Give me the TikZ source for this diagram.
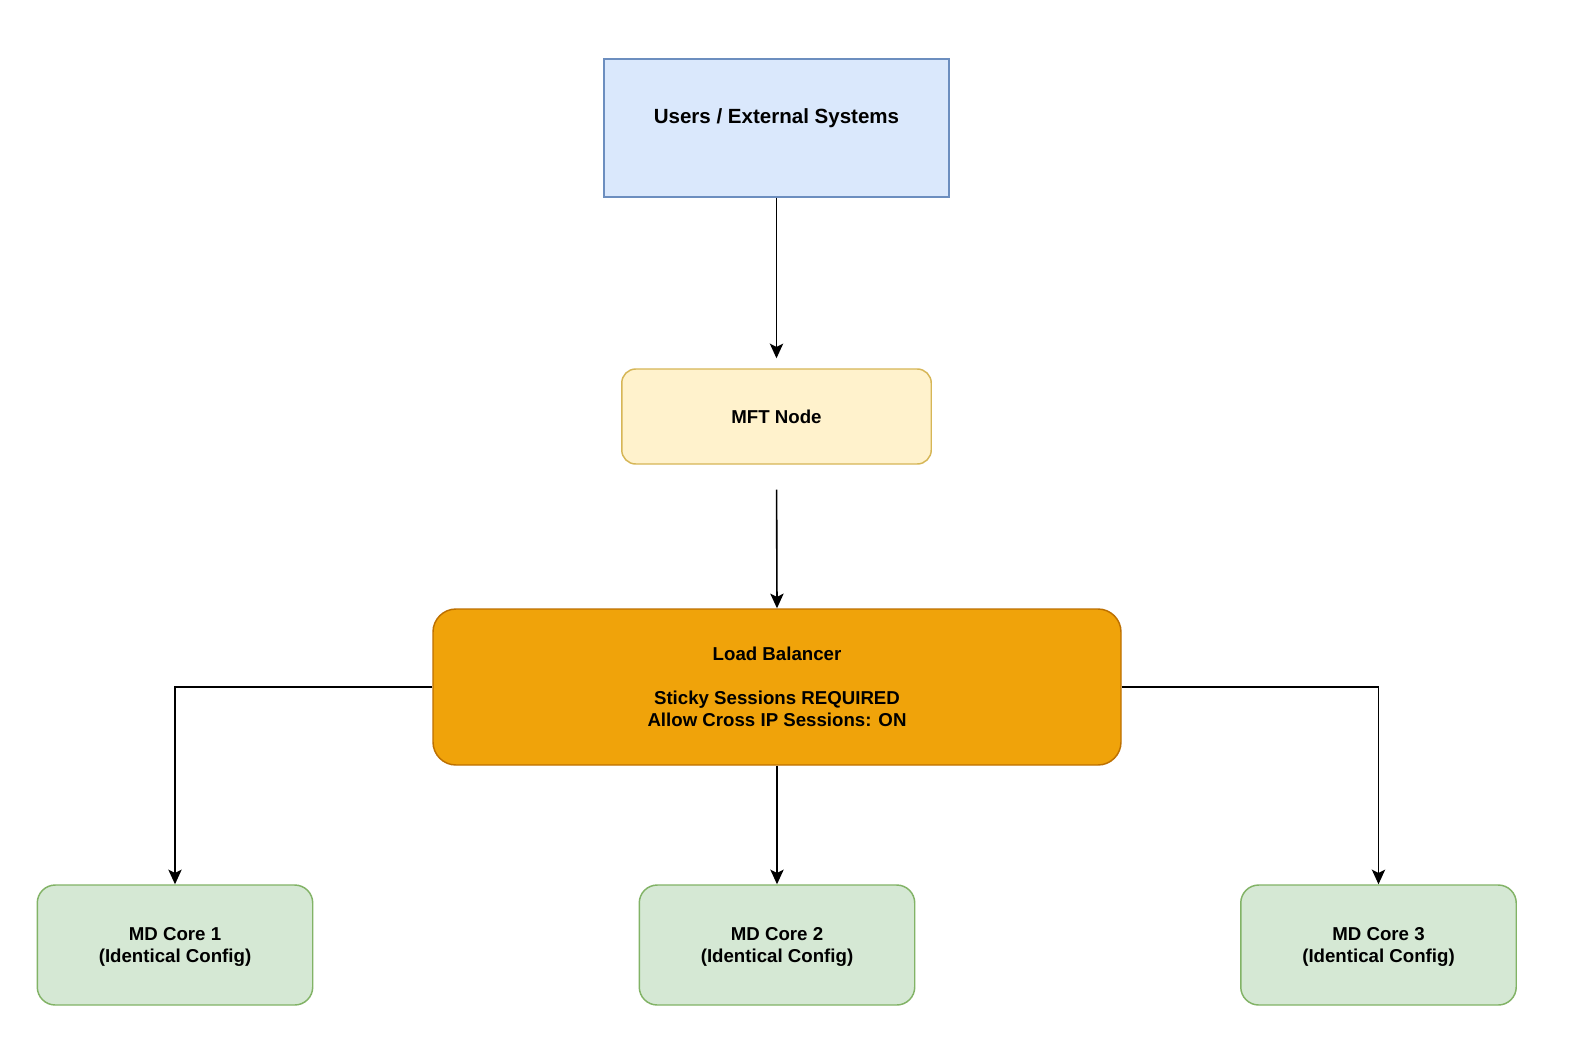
\documentclass[tikz,border=0pt]{standalone}
\usepackage{fontspec}
\setmainfont{Liberation Sans}
\usetikzlibrary{arrows.meta}
\definecolor{bluefill}{HTML}{DAE8FC}\definecolor{bluedraw}{HTML}{6C8EBF}
\definecolor{yelfill}{HTML}{FFF2CC}\definecolor{yeldraw}{HTML}{D6B656}
\definecolor{orfill}{HTML}{F0A30A}\definecolor{ordraw}{HTML}{BD7000}
\definecolor{grfill}{HTML}{D5E8D4}\definecolor{grdraw}{HTML}{82B366}
\tikzset{
  box/.style={draw, line width=1.1pt, align=center, inner sep=0pt,
    font=\bfseries\fontsize{14}{16.5}\selectfont},
  userbox/.style={box, fill=bluefill, draw=bluedraw, minimum width=258.75pt, minimum height=103.5pt},
  mftbox/.style={box, fill=yelfill, draw=yeldraw, rounded corners=10.5pt, minimum width=232.1pt, minimum height=71.25pt},
  lbbox/.style={box, fill=orfill, draw=ordraw, rounded corners=17.25pt, minimum width=516pt, minimum height=117pt},
  corebox/.style={box, fill=grfill, draw=grdraw, rounded corners=13.5pt, minimum width=206.6pt, minimum height=90pt},
  conn/.style={draw, line width=1.2pt, -{Stealth[length=11pt, width=10pt, inset=2.5pt]}},
}
\begin{document}
\begin{tikzpicture}[x=0.75pt, y=-0.75pt]
\useasboundingbox[fill=white] (0,0) rectangle (1582,1040);
\node[userbox, label={[font=\bfseries\fontsize{15.4}{18}\selectfont, yshift=7.5pt]center:Users / External Systems}] (users) at (776.5,128) {};
\node[mftbox] (mft) at (776.5,416.5) {MFT Node};
\node[lbbox] (lb) at (777,687) {Load Balancer\\[16.5pt]Sticky Sessions REQUIRED\\Allow Cross IP Sessions: ON};
\node[corebox, text depth=-1.5pt] (c1) at (175,945) {MD Core 1\\(Identical Config)};
\node[corebox, text depth=-1.5pt] (c2) at (777,945) {MD Core 2\\(Identical Config)};
\node[corebox, text depth=-1.5pt] (c3) at (1378.5,945) {MD Core 3\\(Identical Config)};
\draw[conn, shorten >=7.5pt] (users.south) -- (mft.north);
\draw[conn, shorten <=18.75pt] (mft.south) -- (lb.north);
\draw[conn] (lb.west) -| (c1.north);
\draw[conn] (lb.south) -- (c2.north);
\draw[conn] (lb.east) -| (c3.north);
\end{tikzpicture}
\end{document}
